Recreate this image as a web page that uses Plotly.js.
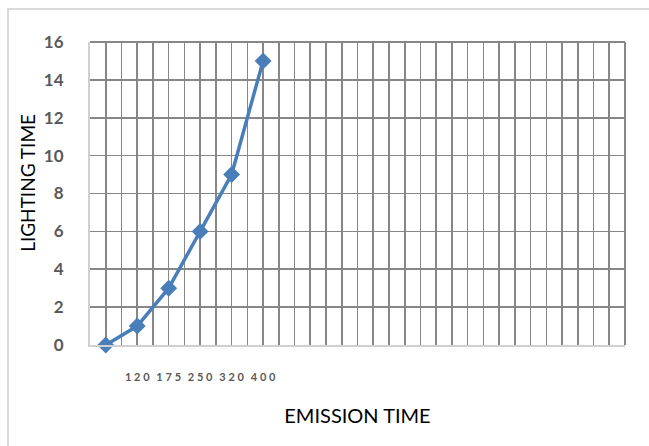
<!DOCTYPE html>
<html>
<head>
<meta charset="utf-8">
<script src="https://cdn.plot.ly/plotly-3.0.1.min.js"></script>
<style>
  html, body { margin: 0; padding: 0; background: #ffffff; }
  #wrap { position: relative; width: 649px; height: 446px; }
  #chart { position: absolute; left: 0; top: 0; width: 649px; height: 446px; }
  #frame {
    position: absolute; left: 7px; top: 8px; right: -4px; bottom: -4px;
    border-left: 2px solid #d9d9d9; border-top: 2px solid #d9d9d9;
    pointer-events: none;
  }
</style>
</head>
<body>
<div id="wrap">
  <div id="chart"></div>
  <div id="frame"></div>
</div>
<script>
// Emission time categories and the lighting time measured for each
var categories = ["", "120", "175", "250", "320", "400"];
var lightingTime = [0, 1, 3, 6, 9, 15];
var slotCount = 17; // category slots shown on the horizontal axis

// Position of each category along the axis (1-based slots)
var xPos = categories.map(function (_, i) { return i + 1; });

// Grid lines fall on every slot centre and every slot boundary;
// category labels are drawn with their digits spread apart
var tickVals = [];
var tickText = [];
for (var k = 1; k <= slotCount * 2 + 1; k++) {
  var v = k / 2;
  tickVals.push(v);
  var idx = xPos.indexOf(v);
  tickText.push(idx >= 0 ? categories[idx].split("").join("\u2005") : "");
}

var gridColor = "#878787";

var trace = {
  x: xPos,
  y: lightingTime,
  type: "scatter",
  mode: "lines+markers",
  cliponaxis: false,
  line: { color: "#4a7ebb", width: 3.5 },
  marker: { symbol: "diamond", size: 13, color: "#4a7ebb" },
  hoverinfo: "skip"
};

var layout = {
  width: 649,
  height: 446,
  margin: { l: 90, r: 24, t: 42, b: 101 },
  paper_bgcolor: "#ffffff",
  plot_bgcolor: "#ffffff",
  showlegend: false,
  font: { family: "Lato, 'Open Sans', sans-serif", color: "#000000" },
  xaxis: {
    range: [0.5, slotCount + 0.5],
    tickmode: "array",
    tickvals: tickVals,
    ticktext: tickText,
    ticks: "",
    ticklabelstandoff: 21,
    tickfont: { family: "Lato, sans-serif", size: 11, color: "#595959", weight: "bold" },
    showgrid: true,
    gridcolor: gridColor,
    gridwidth: 1.6,
    zeroline: false,
    showline: true,
    linecolor: "#d0d0d0",
    linewidth: 2,
    title: {
      text: "EMISSION TIME",
      font: { family: "Lato, sans-serif", size: 20, color: "#000000" },
      standoff: 27
    }
  },
  yaxis: {
    range: [0, 16],
    dtick: 2,
    tick0: 0,
    ticks: "",
    ticklabelstandoff: 21,
    tickfont: { family: "Lato, sans-serif", size: 17, color: "#595959", weight: "bold" },
    showgrid: true,
    gridcolor: gridColor,
    gridwidth: 1.6,
    zeroline: false,
    showline: true,
    linecolor: "#d0d0d0",
    linewidth: 2
  },
  // Axis title on the left, set slightly above the plot's middle
  annotations: [{
    text: "LIGHTING TIME",
    xref: "paper", yref: "paper",
    x: -0.116, y: 0.535,
    xanchor: "center", yanchor: "middle",
    textangle: -90,
    showarrow: false,
    font: { family: "Lato, sans-serif", size: 19, color: "#000000" }
  }],
  // Dark closing edges of the plot area on top and right
  shapes: [
    { type: "line", xref: "paper", yref: "paper", x0: 0, x1: 1, y0: 1, y1: 1,
      line: { color: gridColor, width: 2 } },
    { type: "line", xref: "paper", yref: "paper", x0: 1, x1: 1, y0: 0, y1: 1,
      line: { color: gridColor, width: 2 } }
  ]
};

Plotly.newPlot("chart", [trace], layout, { displayModeBar: false, staticPlot: true });
</script>
</body>
</html>
